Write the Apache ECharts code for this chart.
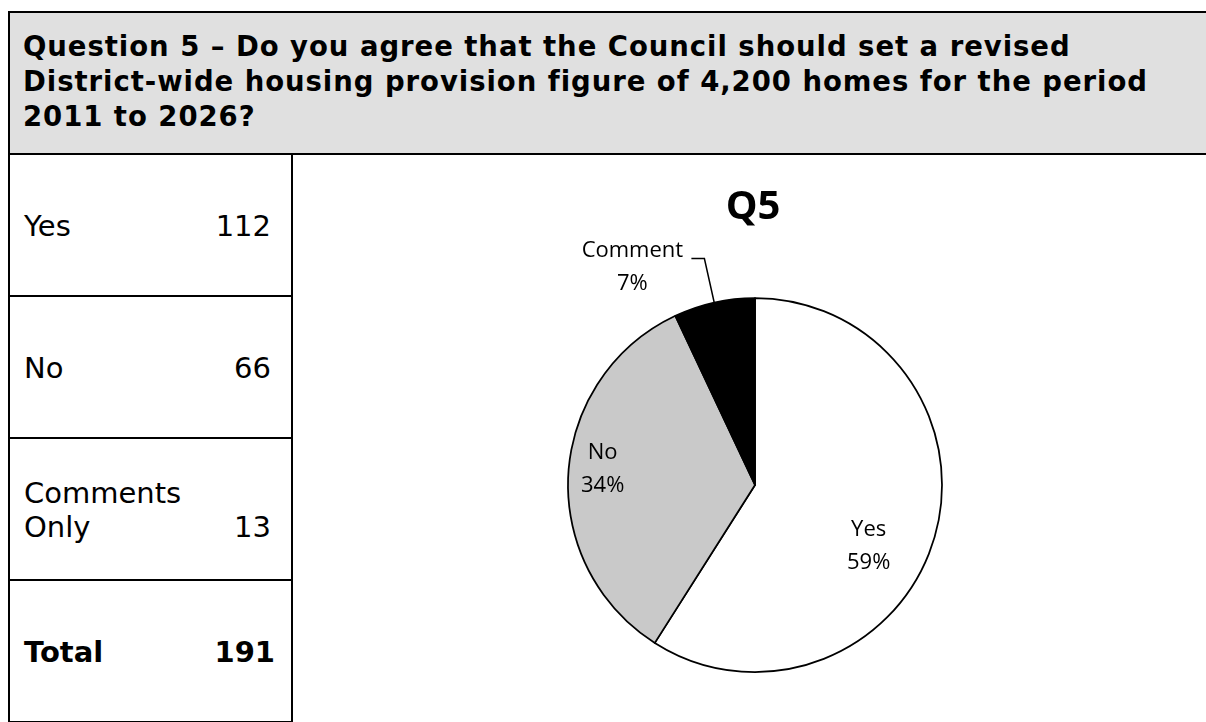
<!DOCTYPE html>
<html>
<head>
<meta charset="utf-8">
<script src="https://cdn.jsdelivr.net/npm/echarts@6/dist/echarts.min.js"></script>
<style>
  html, body { margin: 0; padding: 0; width: 1206px; height: 722px; overflow: hidden; background: #fff; }
  .header {
    position: absolute; left: 8px; top: 11px; width: 1300px; height: 144px;
    box-sizing: border-box; border: 2px solid #000; background: #e0e0e0;
    font-family: "DejaVu Sans", Verdana, sans-serif; font-weight: bold; font-size: 27.5px;
    letter-spacing: 0.95px; line-height: 35px; padding: 16px 0 0 13px; white-space: nowrap; color: #000;
  }
  .row {
    position: absolute; left: 8px; width: 285px; height: 144px; box-sizing: border-box;
    border: 2px solid #000; display: flex; align-items: center; justify-content: space-between;
    font-family: "DejaVu Sans", Verdana, sans-serif; font-size: 29px; line-height: 34px;
    padding: 2px 20px 0 14px; color: #000;
  }
  .row.total { font-weight: bold; padding-right: 16px; }
  .num { text-align: right; }
  #chart { position: absolute; left: 293px; top: 155px; width: 920px; height: 567px; }
</style>
</head>
<body>
<div class="header">Question 5 – Do you agree that the Council should set a revised<br>District-wide housing provision figure of 4,200 homes for the period<br>2011 to 2026?</div>
<div id="table"></div>
<div id="chart"></div>
<script>
// Response counts shown in the left-hand table
const tableLabels = ['Yes', 'No', 'Comments\nOnly', 'Total'];
const tableCounts = [112, 66, 13, 191];

// Pie chart: categories and their percentage shares
const categories = ['Yes', 'No', 'Comment'];
const sharePercent = [59, 34, 7];
const sliceColors = ['#ffffff', '#c9c9c9', '#000000'];

// Build the table rows
const table = document.getElementById('table');
tableLabels.forEach((label, i) => {
  const row = document.createElement('div');
  row.className = 'row' + (i === tableLabels.length - 1 ? ' total' : '');
  row.style.top = (153 + i * 142) + 'px';
  const lines = label.split('\n');
  const lab = document.createElement('div');
  lab.innerHTML = lines.join('<br>');
  const num = document.createElement('div');
  num.className = 'num';
  num.innerHTML = lines.slice(1).map(() => '&nbsp;').concat([String(tableCounts[i])]).join('<br>');
  row.appendChild(lab);
  row.appendChild(num);
  table.appendChild(row);
});

// Label offsets for the inside labels (per slice)
const labelOffsets = [[21, 34], [-56, -10], [0, 0]];

const chart = echarts.init(document.getElementById('chart'), null, { renderer: 'canvas' });
chart.setOption({
  animation: false,
  title: {
    text: 'Q5', left: 'center', top: 28,
    textStyle: { fontFamily: 'Open Sans', fontWeight: 'bold', fontSize: 40, color: '#000' }
  },
  series: [{
    type: 'pie',
    center: [462, 330],
    radius: 187,
    startAngle: 90,
    clockwise: true,
    silent: true,
    itemStyle: { borderColor: '#000', borderWidth: 1.75 },
    data: categories.map((name, i) => {
      const item = { name: name, value: sharePercent[i], itemStyle: { color: sliceColors[i] } };
      if (i === 2) {
        item.label = {
          position: 'outside',
          formatter: p => '{a|' + p.name + '}\n{a|' + p.value + '%}',
          padding: [18, 0, 0, 0],
          distanceToLabelLine: 7
        };
        item.labelLine = { show: true, length: 45, length2: 13, lineStyle: { color: '#000', width: 1.5 } };
      }
      return item;
    }),
    label: {
      position: 'inside',
      formatter: p => '{a|' + p.name + '}\n{a|' + p.value + '%}',
      color: '#000',
      rich: {
        a: { fontFamily: 'Open Sans', fontSize: 22, lineHeight: 33, color: '#000', width: 104, align: 'center' }
      }
    },
    labelLayout: params => {
      const off = labelOffsets[params.dataIndex];
      return { dx: off[0], dy: off[1] };
    }
  }]
});
</script>
</body>
</html>
